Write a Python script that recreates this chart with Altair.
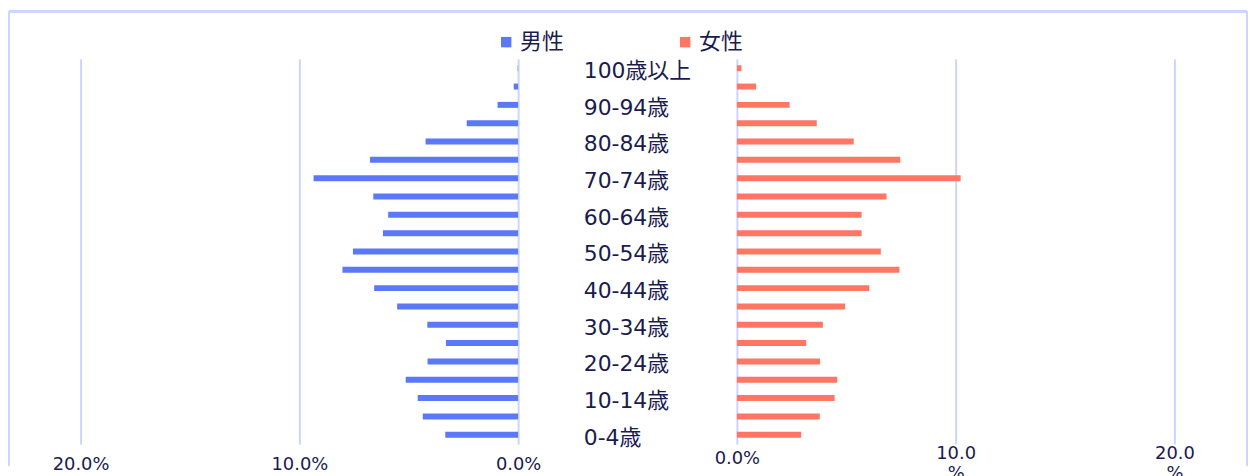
import altair as alt
import pandas as pd

ages = ["0-4歳", "5-9歳", "10-14歳", "15-19歳", "20-24歳", "25-29歳", "30-34歳",
        "35-39歳", "40-44歳", "45-49歳", "50-54歳", "55-59歳", "60-64歳", "65-69歳",
        "70-74歳", "75-79歳", "80-84歳", "85-89歳", "90-94歳", "95-99歳", "100歳以上"]
male = [3.33, 4.36, 4.59, 5.14, 4.14, 3.30, 4.15, 5.53, 6.58, 8.03, 7.55,
        6.18, 5.94, 6.62, 9.35, 6.77, 4.23, 2.35, 0.94, 0.20, 0.02]
female = [2.94, 3.79, 4.47, 4.59, 3.80, 3.17, 3.93, 4.95, 6.05, 7.43, 6.58,
          5.70, 5.70, 6.84, 10.23, 7.47, 5.34, 3.65, 2.41, 0.88, 0.21]
shown_labels = ["0-4歳", "10-14歳", "20-24歳", "30-34歳", "40-44歳", "50-54歳",
                "60-64歳", "70-74歳", "80-84歳", "90-94歳", "100歳以上"]
sexes = ["男性", "女性"]
colors = ["#5b79f7", "#ff7664"]
ticks = [0, 10, 20]

order = ages[::-1]
df_m = pd.DataFrame({"age": ages, "value": male, "sex": sexes[0]})
df_f = pd.DataFrame({"age": ages, "value": female, "sex": sexes[1]})
df_lab = pd.DataFrame({"age": shown_labels})

FONT = "DejaVu Sans, Noto Sans CJK JP"
TXT = "#1b1b4f"
GRID = "#cdd5ff"
H = 387
W = 440
MW = 220

y_scale = alt.Scale(domain=order, paddingInner=0, paddingOuter=0)
color_enc = alt.Color(
    "sex:N",
    scale=alt.Scale(domain=sexes, range=colors),
    legend=alt.Legend(
        title=None, orient="none", direction="horizontal",
        legendX=417, legendY=-28,
        symbolType="square", symbolSize=110, symbolStrokeWidth=0,
        labelFont=FONT, labelFontSize=22, labelColor=TXT, labelOffset=3,
        columnPadding=110,
    ),
)

left = alt.Chart(df_m).mark_bar(size=6).encode(
    x=alt.X("value:Q",
            scale=alt.Scale(domain=[0, 20], reverse=True, nice=False),
            axis=alt.Axis(values=ticks, title=None, domain=False, ticks=False,
                          labelExpr="format(datum.value, '.1f') + '%'",
                          labelFlush=False, labelOverlap=False, labelBound=False,
                          labelBaseline="top", labelPadding=12)),
    y=alt.Y("age:N", scale=y_scale, axis=None),
    color=color_enc,
).properties(width=W, height=H)

right = alt.Chart(df_f).mark_bar(size=6).encode(
    x=alt.X("value:Q",
            scale=alt.Scale(domain=[0, 20], nice=False),
            axis=alt.Axis(values=ticks, title=None, domain=False, ticks=False,
                          labelExpr="datum.value == 0 ? '0.0%' : [format(datum.value, '.1f'), '%']",
                          labelFlush=False, labelOverlap=False, labelBound=False,
                          labelBaseline="middle", labelLineHeight=20,
                          labelPadding={"condition": {"test": "datum.value == 0", "value": 15},
                                        "value": 10})),
    y=alt.Y("age:N", scale=y_scale, axis=None),
    color=color_enc,
).properties(width=W, height=H)

labels = alt.Chart(df_lab).mark_text(
    align="left", baseline="middle", dy=3, font=FONT, fontSize=22, color=TXT
).encode(
    x=alt.value(66),
    y=alt.Y("age:N", scale=y_scale, axis=None),
    text="age:N",
)

frame_top = alt.Chart(df_lab).mark_rule(color=GRID, strokeWidth=2).encode(
    x=alt.value(-512), x2=alt.value(733), y=alt.value(-48))
frame_left = alt.Chart(df_lab).mark_rule(color=GRID, strokeWidth=2).encode(
    x=alt.value(-512), y=alt.value(-48), y2=alt.value(H + 22))
frame_right = alt.Chart(df_lab).mark_rule(color=GRID, strokeWidth=2).encode(
    x=alt.value(733), y=alt.value(-48), y2=alt.value(H + 22))

middle = alt.layer(frame_top, frame_left, frame_right, labels).properties(width=MW, height=H)

chart = alt.hconcat(left, middle, right, spacing=0, bounds="flush").properties(
    padding={"top": 1, "left": 0, "right": 0, "bottom": 0},
    background="white",
).configure_view(strokeWidth=0).configure_axis(
    gridColor=GRID, gridWidth=2, gridOpacity=1,
    labelFont=FONT, labelFontSize=18, labelColor=TXT,
)

chart.save("out.html", embed_options={"renderer": "svg", "actions": False})
